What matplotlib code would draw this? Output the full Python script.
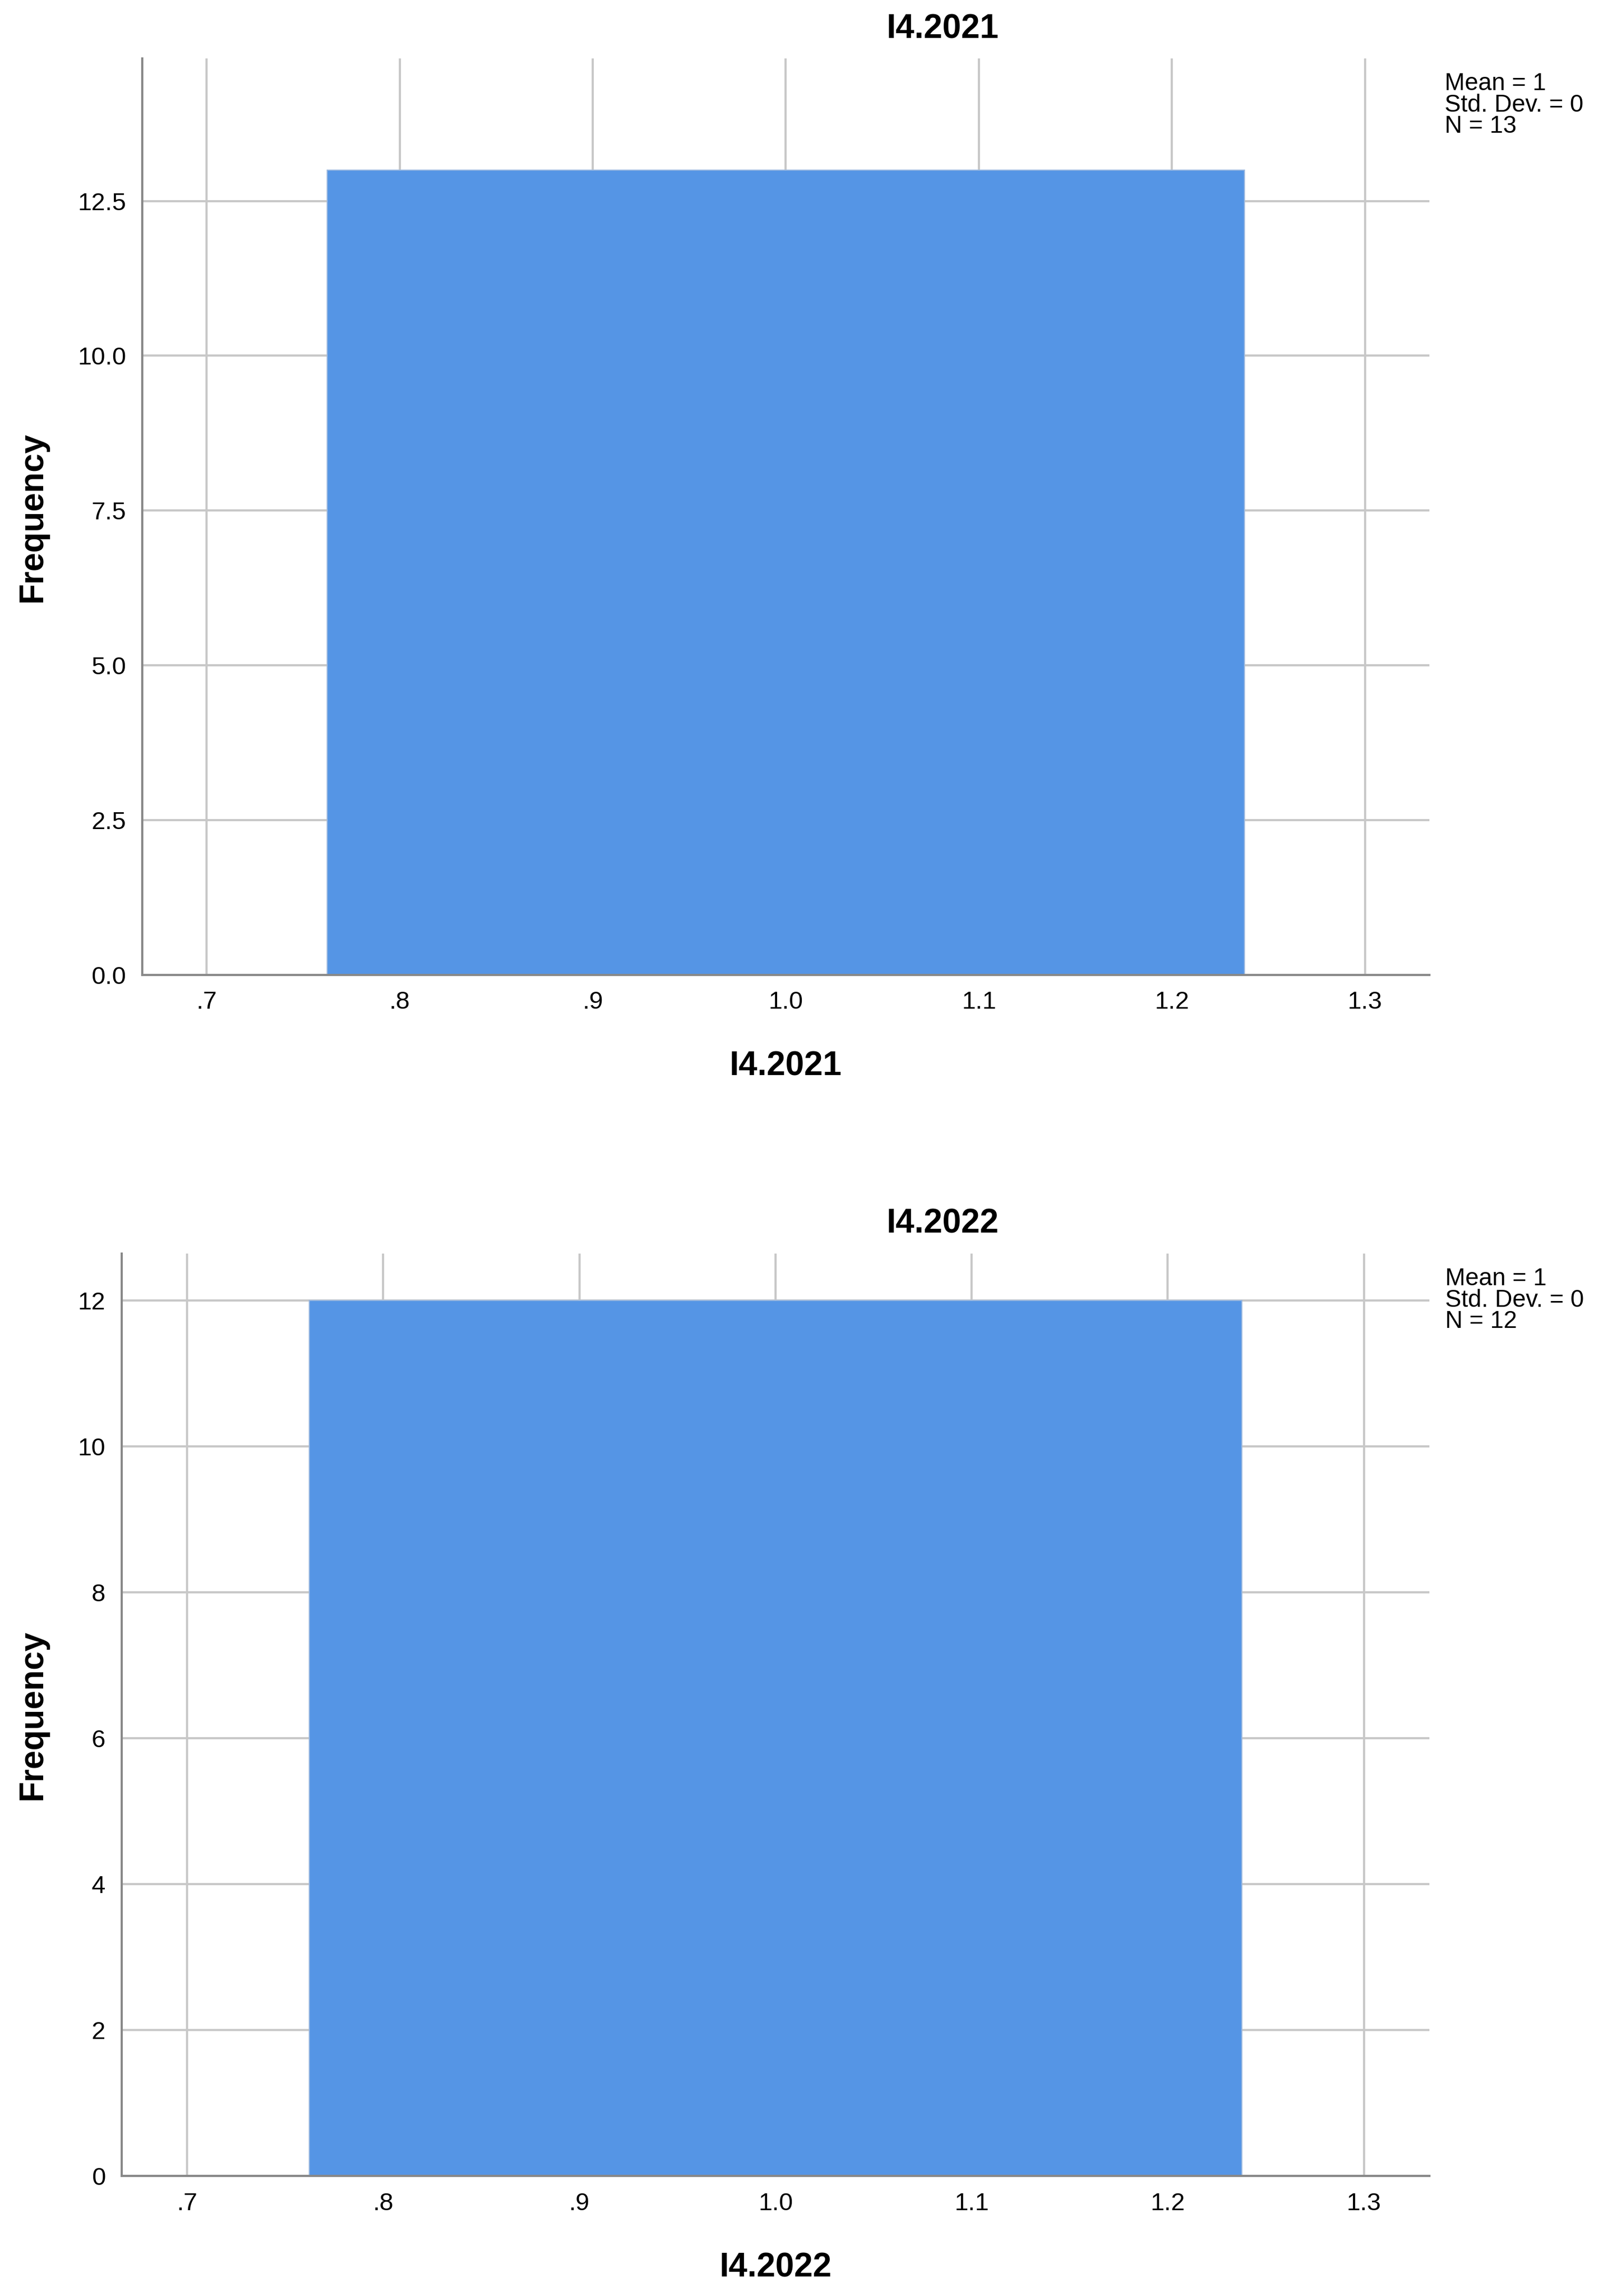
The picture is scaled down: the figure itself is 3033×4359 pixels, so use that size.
import matplotlib
matplotlib.use("Agg")
import matplotlib.pyplot as plt

plt.rcParams["font.family"] = ["Liberation Sans", "DejaVu Sans"]

BAR_COLOR = "#5595e5"
GRID = "#c8c8c8"

names = ["I4.2021", "I4.2022"]
counts = [13, 12]
bin_left = [0.7623, 0.7623]
bin_right = [1.2377, 1.2377]
xticks = [0.7, 0.8, 0.9, 1.0, 1.1, 1.2, 1.3]
xticklabels = [".7", ".8", ".9", "1.0", "1.1", "1.2", "1.3"]
yticks = [[0, 2.5, 5.0, 7.5, 10.0, 12.5], [0, 2, 4, 6, 8, 10, 12]]
ytop = [14.8, 12.64]
stats = ["Mean = 1\nStd. Dev. = 0\nN = 13", "Mean = 1\nStd. Dev. = 0\nN = 12"]
# axes boxes in figure fractions: left, bottom, width, height
boxes = [(0.089, 1 - 0.4246, 0.8055, 0.4246 - 0.0255),
         (0.0761, 1 - 0.9477, 0.8184, 0.9477 - 0.546)]

fig = plt.figure(figsize=(30.33, 43.59), dpi=100)
for i in range(2):
    ax = fig.add_axes(boxes[i])
    ax.set_axisbelow(True)
    ax.bar(bin_left[i], counts[i], width=bin_right[i] - bin_left[i], align="edge",
           color=BAR_COLOR, edgecolor="#9ab8e0", linewidth=1.5, zorder=2)
    ax.set_xlim(0.6666, 1.3334)
    ax.set_ylim(0, ytop[i])
    ax.set_xticks(xticks)
    ax.set_xticklabels(xticklabels)
    ax.set_yticks(yticks[i])
    if i == 0:
        ax.set_yticklabels([f"{v:.1f}" for v in yticks[i]])
    else:
        ax.set_yticklabels([str(int(v)) for v in yticks[i]])
    ax.grid(True, color=GRID, linewidth=3, zorder=0)
    for s in ["top", "right"]:
        ax.spines[s].set_visible(False)
    for s in ["left", "bottom"]:
        ax.spines[s].set_color("#888888")
        ax.spines[s].set_linewidth(3)
    ax.tick_params(length=0, labelsize=34, pad=22)
    ax.set_xlabel(names[i], fontsize=46, fontweight="bold", labelpad=50)
    ax.set_ylabel("Frequency", fontsize=46, fontweight="bold", labelpad=40)
    top = boxes[i][1] + boxes[i][3]
    fig.text(0.59, top + 0.006, names[i], fontsize=46, fontweight="bold",
             ha="center", va="bottom")
    ax.text(1.012, 0.985, stats[i], transform=ax.transAxes, fontsize=33,
            va="top", ha="left", linespacing=0.9)

fig.savefig("out.png", dpi=100, facecolor="white")
